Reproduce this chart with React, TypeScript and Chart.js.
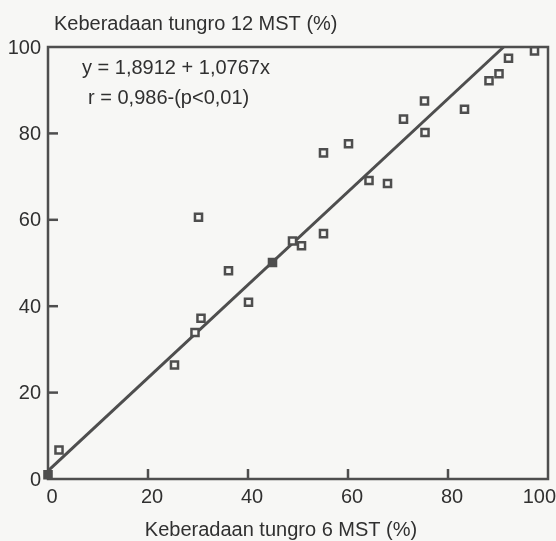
import React, { useEffect, useRef } from "react";
import { Chart, registerables } from "chart.js";

Chart.register(...registerables);

// Data
const xValues = [0, 2.2, 25.3, 29.4, 30.6, 30.1, 36.1, 40.1, 44.9, 48.9, 50.7, 55.1, 55.1, 60.1, 64.2, 67.9, 71.1, 75.3, 75.4, 83.3, 88.2, 90.2, 92.1, 97.3];
const yValues = [1, 6.7, 26.4, 33.9, 37.2, 60.6, 48.2, 40.9, 50.1, 55.1, 54.0, 56.8, 75.5, 77.6, 69.1, 68.4, 83.3, 87.5, 80.2, 85.6, 92.2, 93.8, 97.4, 99.1];
const filledPoints = [0, 8];
const regressionIntercept = 1.8912;
const regressionSlope = 1.0767;
const xTickLabels = [0, 20, 40, 60, 80, 100];
const yTickLabels = [0, 20, 40, 60, 80, 100];
const yAxisTitle = "Keberadaan tungro 12 MST (%)";
const xAxisTitle = "Keberadaan tungro 6 MST (%)";
const equationLines = ["y = 1,8912 + 1,0767x", "r = 0,986-(p<0,01)"];

const INK = "#303030";
const LINE = "#4e4e4e";
const FONT = '20px "Liberation Sans", Arial, sans-serif';
const TICK_FONT = '20px "Liberation Sans", Arial, sans-serif';

const decorPlugin = {
  id: "decor",
  beforeDraw(chart: any) {
    const { ctx, width, height } = chart;
    ctx.save();
    ctx.fillStyle = "#f7f7f5";
    ctx.fillRect(0, 0, width, height);
    ctx.restore();
  },
  beforeDatasetsDraw(chart: any) {
    const { ctx, chartArea: a, scales } = chart;
    const xs = scales.x;
    const ys = scales.y;
    ctx.save();
    ctx.strokeStyle = LINE;
    ctx.lineWidth = 2.5;
    ctx.lineCap = "square";
    ctx.strokeRect(a.left, a.top, a.right - a.left, a.bottom - a.top);
    ctx.lineCap = "butt";
    xTickLabels.forEach((v) => {
      if (v === 0 || v === 100) return;
      const px = xs.getPixelForValue(v);
      ctx.beginPath();
      ctx.moveTo(px, a.bottom);
      ctx.lineTo(px, a.bottom - 10);
      ctx.stroke();
    });
    yTickLabels.forEach((v) => {
      if (v === 0 || v === 100) return;
      const py = ys.getPixelForValue(v);
      ctx.beginPath();
      ctx.moveTo(a.left, py);
      ctx.lineTo(a.left + 10, py);
      ctx.stroke();
    });
    ctx.restore();
  },
  afterDraw(chart: any) {
    const { ctx, chartArea: a, scales, width } = chart;
    const xs = scales.x;
    const ys = scales.y;
    ctx.save();
    ctx.fillStyle = INK;
    ctx.font = TICK_FONT;
    ctx.textAlign = "right";
    ctx.textBaseline = "middle";
    yTickLabels.forEach((v) => {
      ctx.fillText(String(v), a.left - 7, ys.getPixelForValue(v) + 1);
    });
    ctx.textAlign = "center";
    ctx.textBaseline = "top";
    xTickLabels.forEach((v) => {
      const s = String(v);
      const w = ctx.measureText(s).width;
      let px = xs.getPixelForValue(v) + 4;
      px = Math.min(px, width - w / 2);
      ctx.fillText(s, px, a.bottom + 8);
    });
    ctx.font = FONT;
    ctx.textAlign = "left";
    ctx.textBaseline = "alphabetic";
    ctx.fillText(yAxisTitle, a.left + 6, 30);
    ctx.textAlign = "center";
    ctx.fillText(xAxisTitle, 281, 536);
    ctx.textAlign = "left";
    ctx.fillText(equationLines[0], 82, 74);
    ctx.fillText(equationLines[1], 88, 104);
    ctx.restore();
  },
};

export default function App() {
  const ref = useRef<HTMLCanvasElement | null>(null);
  useEffect(() => {
    if (!ref.current) return;
    const points = xValues.map((x, i) => ({ x, y: yValues[i] }));
    const xEnd = (100 - regressionIntercept) / regressionSlope;
    const lineXs = [0, xEnd];
    const linePts = lineXs.map((x) => ({ x, y: regressionIntercept + regressionSlope * x }));
    const chart = new Chart(ref.current, {
      type: "scatter",
      data: {
        datasets: [
          {
            label: "regresi",
            data: linePts,
            showLine: true,
            borderColor: LINE,
            borderWidth: 3,
            pointRadius: 0,
            clip: false as any,
            order: 2,
          },
          {
            label: "data",
            data: points,
            pointStyle: "rect",
            pointRadius: 5,
            pointBorderWidth: 2.5,
            pointBorderColor: LINE,
            pointBackgroundColor: points.map((_, i) => (filledPoints.includes(i) ? LINE : "#f8f8f6")),
            clip: false as any,
            order: 1,
          },
        ],
      },
      options: {
        animation: false,
        responsive: false,
        devicePixelRatio: 1,
        layout: { padding: { top: 47, right: 8, left: 0, bottom: 0 } },
        plugins: { legend: { display: false }, tooltip: { enabled: false }, title: { display: false } },
        scales: {
          x: {
            type: "linear",
            min: 0,
            max: 100,
            ticks: { display: false },
            grid: { display: false, drawTicks: false },
            border: { display: false },
            afterFit: (s: any) => {
              s.height = 62;
              s.paddingLeft = 0;
              s.paddingRight = 0;
            },
          },
          y: {
            type: "linear",
            min: 0,
            max: 100,
            ticks: { display: false },
            grid: { display: false, drawTicks: false },
            border: { display: false },
            afterFit: (s: any) => {
              s.width = 48;
              s.paddingTop = 0;
              s.paddingBottom = 0;
            },
          },
        },
      },
      plugins: [decorPlugin],
    });
    return () => chart.destroy();
  }, []);
  return (
    <div style={{ position: "absolute", left: 0, top: 0, width: 556, height: 541 }}>
      <canvas ref={ref} width={556} height={541} />
    </div>
  );
}
